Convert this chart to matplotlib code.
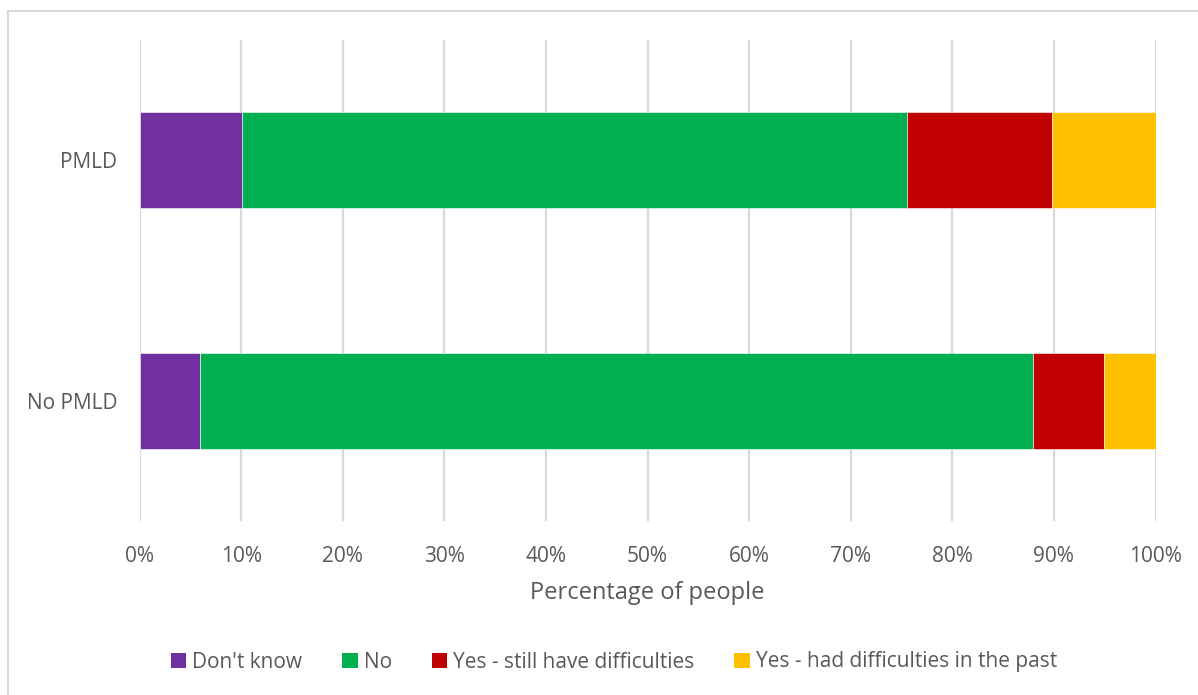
import matplotlib
matplotlib.use('Agg')
import matplotlib.pyplot as plt
from matplotlib.patches import Patch
from matplotlib.lines import Line2D
from matplotlib.ticker import PercentFormatter

plt.rcParams['font.family'] = 'Open Sans'

groups = ['No PMLD', 'PMLD']
series = ["Don't know", 'No', 'Yes - still have difficulties', 'Yes - had difficulties in the past']
values = {
    "Don't know": [6.0, 10.1],
    'No': [81.9, 65.4],
    'Yes - still have difficulties': [7.0, 14.3],
    'Yes - had difficulties in the past': [5.1, 10.2],
}
colors = ['#7030A0', '#00B050', '#C00000', '#FFC000']
text_col = '#595959'
grid_col = '#D9D9D9'

fig = plt.figure(figsize=(11.98, 6.95), dpi=100)
ax = fig.add_axes([139.5/1198, 1-521/695, 1016/1198, 481/695])

left = [0.0, 0.0]
for name, c in zip(series, colors):
    ax.barh(range(len(groups)), values[name], left=left, height=0.4, color=c,
            edgecolor='white', linewidth=0.4, zorder=3)
    left = [l + v for l, v in zip(left, values[name])]

ax.set_xlim(0, 100)
ax.set_ylim(-0.5, 1.5)
ax.set_xticks(range(0, 101, 10))
ax.xaxis.set_major_formatter(PercentFormatter(decimals=0))
ax.set_yticks(range(len(groups)))
ax.set_yticklabels(groups)
ax.grid(axis='x', color=grid_col, linewidth=1.6, zorder=0)
for s in ax.spines.values():
    s.set_visible(False)
ax.tick_params(axis='both', length=0, labelsize=15, labelcolor=text_col)
ax.tick_params(axis='x', pad=18)
ax.tick_params(axis='y', pad=16)
ax.set_xlabel('Percentage of people', fontsize=17, color=text_col, labelpad=10)

handles = [Patch(facecolor=c, edgecolor='none') for c in colors]
fig.legend(handles, series, loc='center', bbox_to_anchor=(614/1198, 1-662/695), ncol=4,
           frameon=False, fontsize=15, labelcolor=text_col, handlelength=0.75,
           handleheight=0.75, handletextpad=0.3, columnspacing=1.9)

# chart frame (top and left edges visible)
fig.add_artist(Line2D([8/1198, 1], [1-11/695, 1-11/695], color=grid_col, lw=1.5,
                      transform=fig.transFigure))
fig.add_artist(Line2D([8/1198, 8/1198], [0, 1-11/695], color=grid_col, lw=1.5,
                      transform=fig.transFigure))

fig.savefig('out.png', dpi=100)
